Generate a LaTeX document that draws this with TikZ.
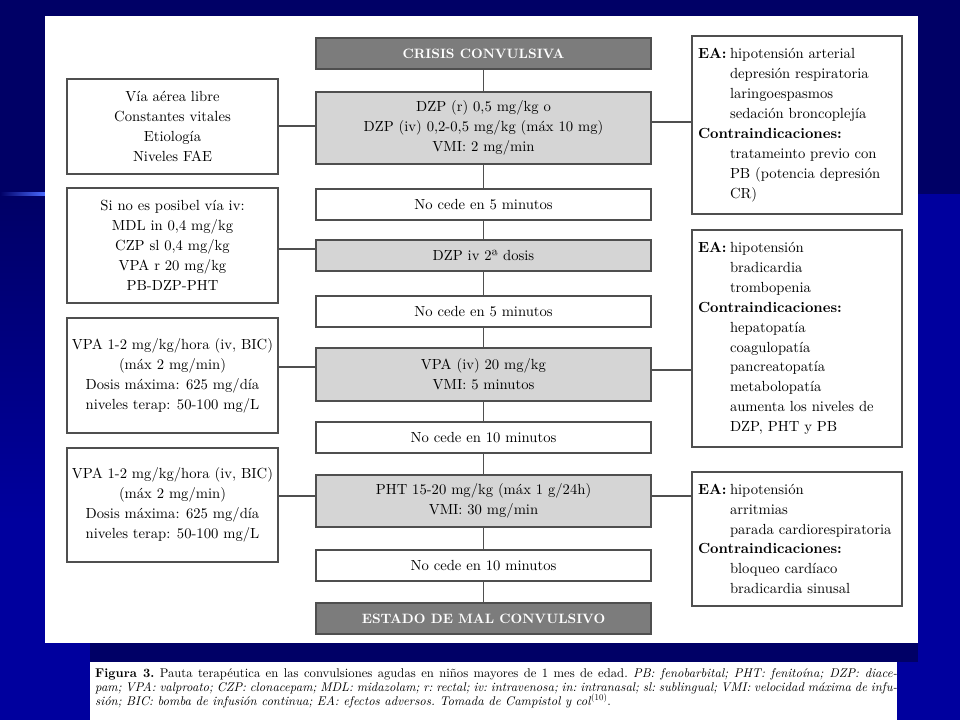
\documentclass[tikz,border=0pt]{standalone}
\usepackage{fontspec}
\setmainfont{lmroman10}[Extension=.otf, UprightFont=*-regular, BoldFont=*-bold, ItalicFont=*-italic, BoldItalicFont=*-bolditalic]
\usetikzlibrary{calc}
\definecolor{navy}{HTML}{000066}
\definecolor{bblue}{HTML}{00009E}
\definecolor{lline}{HTML}{4A6AFF}
\definecolor{bord}{HTML}{4F4F4F}
\definecolor{lgray}{HTML}{D5D5D5}
\definecolor{dgray}{HTML}{7C7C7C}
\newcommand\eatag{\makebox[32bp][l]{\textbf{EA:}}}
\newcommand\ind{\hspace*{32bp}}
\tikzset{
  base/.style={draw=bord, line width=1.3bp, inner sep=0pt, font=\fontsize{14.7}{20}\selectfont},
  cbox/.style={base, minimum width=335bp, fill=white},
  gbox/.style={cbox, fill=lgray},
  hbox/.style={cbox, fill=dgray, text=white, font=\fontsize{13.6}{16}\selectfont\bfseries},
  lbox/.style={base, minimum width=211bp, align=center, fill=white},
  rbox/.style={base, minimum width=210bp, text width=198bp, align=left, fill=white},
  conn/.style={draw=bord, line width=1.3bp},
  capline/.style={anchor=base west, inner sep=0pt, font=\fontsize{12.7}{14}\selectfont\frenchspacing}
}
\begin{document}
\begin{tikzpicture}[x=1bp, y=-1bp]
\useasboundingbox (0,0) rectangle (960,720);
% background
\fill[navy] (0,0) rectangle (960,720);
\fill[bblue] (0,194) rectangle (960,720);
\shade[top color=navy, bottom color=bblue] (0,194) rectangle (46,520);
\shade[left color=navy, right color=lline] (0,192.5) rectangle (45,195);
\fill[white] (45,16) rectangle (918,643);
\fill[navy] (90,643) rectangle (918,662);
\fill[white] (90,662) rectangle (897,720);

% centre column
\node[hbox, minimum height=31bp] (crisis) at (483.5,53.5) {CRISIS CONVULSIVA};
\node[gbox, minimum height=72bp, align=center] (dzp) at (483.5,128) {DZP (r) 0,5 mg/kg o\\DZP (iv) 0,2-0,5 mg/kg (máx 10 mg)\\VMI: 2 mg/min};
\node[cbox, minimum height=31bp] (nc1) at (483.5,204.5) {No cede en 5 minutos};
\node[gbox, minimum height=31bp] (dzp2) at (483.5,255.5) {DZP iv 2ª dosis};
\node[cbox, minimum height=31bp] (nc2) at (483.5,311.5) {No cede en 5 minutos};
\node[gbox, minimum height=53bp, align=center] (vpa) at (483.5,374.5) {VPA (iv) 20 mg/kg\\VMI: 5 minutos};
\node[cbox, minimum height=31bp] (nc3) at (483.5,437.5) {No cede en 10 minutos};
\node[gbox, minimum height=52bp, align=center] (pht) at (483.5,501) {PHT 15-20 mg/kg (máx 1 g/24h)\\VMI: 30 mg/min};
\node[cbox, minimum height=31bp] (nc4) at (483.5,565.5) {No cede en 10 minutos};
\node[hbox, minimum height=31bp] (estado) at (483.5,618.5) {ESTADO DE MAL CONVULSIVO};

% left column
\node[lbox, minimum height=95bp] (l1) at (172.5,126.5) {Vía aérea libre\\Constantes vitales\\Etiología\\Niveles FAE};
\node[lbox, minimum height=115bp] (l2) at (172.5,245.5) {Si no es posibel vía iv:\\MDL in 0,4 mg/kg\\CZP sl 0,4 mg/kg\\VPA r 20 mg/kg\\PB-DZP-PHT};
\node[lbox, minimum height=115bp] (l3) at (172.5,375.5) {VPA 1-2 mg/kg/hora (iv, BIC)\\(máx 2 mg/min)\\Dosis máxima: 625 mg/día\\niveles terap: 50-100 mg/L};
\node[lbox, minimum height=114bp] (l4) at (172.5,505) {VPA 1-2 mg/kg/hora (iv, BIC)\\(máx 2 mg/min)\\Dosis máxima: 625 mg/día\\niveles terap: 50-100 mg/L};

% right column
\node[rbox, minimum height=178bp] (r1) at (797,125) {\eatag hipotensión arterial\\\ind depresión respiratoria\\\ind laringoespasmos\\\ind sedación broncoplejía\\\textbf{Contraindicaciones:}\\\ind tratameinto previo con\\\ind PB (potencia depresión\\\ind CR)};
\node[rbox, minimum height=217bp] (r2) at (797,338.5) {\eatag hipotensión\\\ind bradicardia\\\ind trombopenia\\\textbf{Contraindicaciones:}\\\ind hepatopatía\\\ind coagulopatía\\\ind pancreatopatía\\\ind metabolopatía\\\ind aumenta los niveles de\\\ind DZP, PHT y PB};
\node[rbox, minimum height=134bp] (r3) at (797,539) {\eatag hipotensión\\\ind arritmias\\\ind parada cardiorespiratoria\\\textbf{Contraindicaciones:}\\\ind bloqueo cardíaco\\\ind bradicardia sinusal};

% spine
\draw[conn] (crisis.south) -- (dzp.north);
\draw[conn] (dzp.south) -- (nc1.north);
\draw[conn] (nc1.south) -- (dzp2.north);
\draw[conn] (dzp2.south) -- (nc2.north);
\draw[conn] (nc2.south) -- (vpa.north);
\draw[conn] (vpa.south) -- (nc3.north);
\draw[conn] (nc3.south) -- (pht.north);
\draw[conn] (pht.south) -- (nc4.north);
\draw[conn] (nc4.south) -- (estado.north);

% side connectors
\coordinate (ya) at (0,126);
\coordinate (yb) at (0,122);
\coordinate (yc) at (0,249);
\coordinate (yd) at (0,367);
\coordinate (ye) at (0,370);
\coordinate (yf) at (0,496);
\draw[conn] (l1.east |- ya) -- (dzp.west |- ya);
\draw[conn] (dzp.east |- yb) -- (r1.west |- yb);
\draw[conn] (l2.east |- yc) -- (dzp2.west |- yc);
\draw[conn] (l3.east |- yd) -- (vpa.west |- yd);
\draw[conn] (vpa.east |- ye) -- (r2.west |- ye);
\draw[conn] (l4.east |- yf) -- (pht.west |- yf);
\draw[conn] (pht.east |- yf) -- (r3.west |- yf);

% caption
\node[capline] (cap1) at (95,677) {\makebox[802bp][s]{\textbf{Figura 3.} Pauta terapéutica en las convulsiones agudas en niños mayores de 1 mes de edad. \textit{PB: fenobarbital; PHT: fenitoína; DZP: diace-}}};
\node[capline] (cap2) at (95,691) {\makebox[802bp][s]{\textit{pam; VPA: valproato; CZP: clonacepam; MDL: midazolam; r: rectal; iv: intravenosa; in: intranasal; sl: sublingual; VMI: velocidad máxima de infu-}}};
\node[capline] (cap3) at (95,705) {\textit{sión; BIC: bomba de infusión continua; EA: efectos adversos. Tomada de Campistol y col}\textsuperscript{(10)}.};
\end{tikzpicture}
\end{document}
